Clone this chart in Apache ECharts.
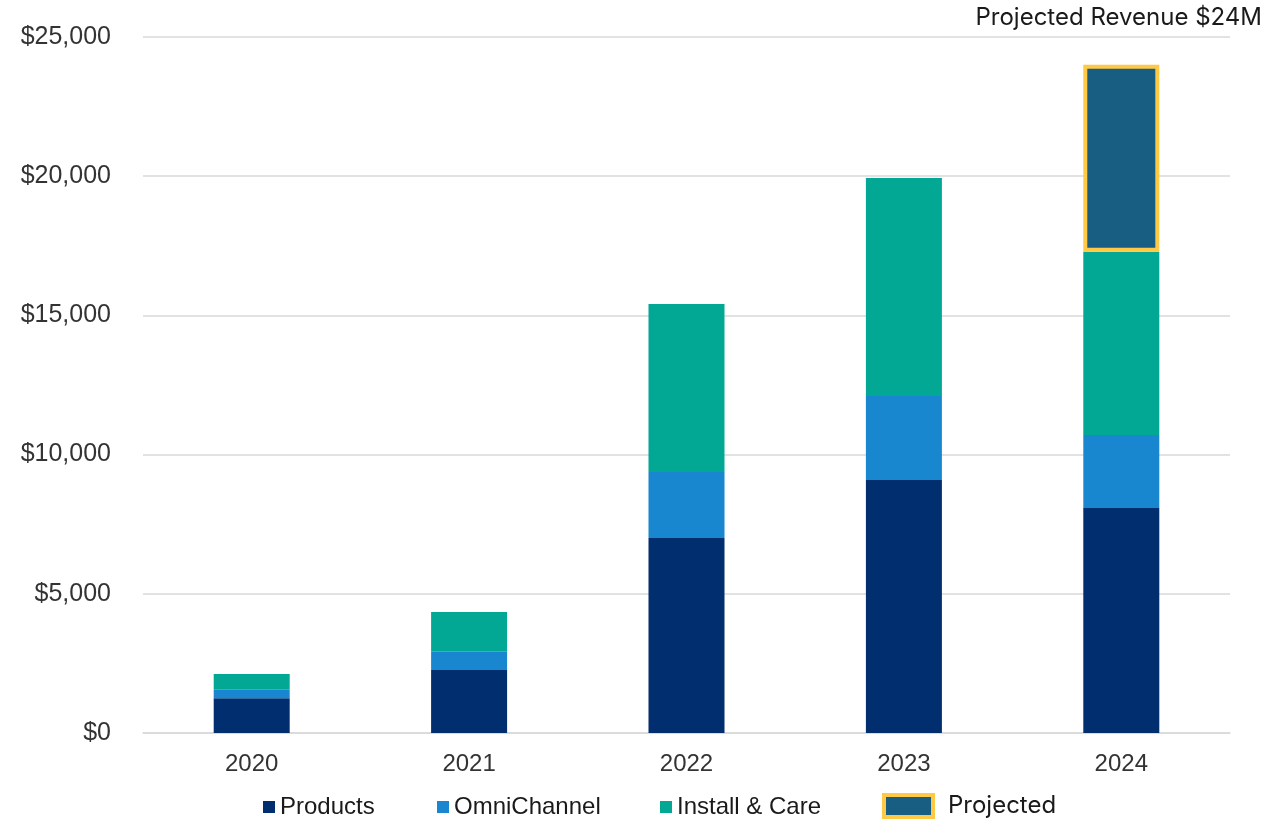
<!DOCTYPE html>
<html>
<head>
<meta charset="utf-8">
<script src="https://cdn.jsdelivr.net/npm/echarts@6/dist/echarts.min.js"></script>
<style>
html,body{margin:0;padding:0;background:#fff;}
#chart{width:1266px;height:822px;}
</style>
</head>
<body>
<div id="chart"></div>
<script>
const categories = ['2020', '2021', '2022', '2023', '2024'];
const products = [1250, 2260, 7000, 9090, 8080];
const omniChannel = [300, 660, 2375, 3015, 2620];
const installCare = [570, 1430, 6035, 7830, 6590];
const projected = [null, null, null, null, 6710];
const yTicks = [0, 5000, 10000, 15000, 20000, 25000];
const noteText = 'Projected Revenue $24M';

const chart = echarts.init(document.getElementById('chart'));
const fmt = v => '$' + v.toLocaleString('en-US');
const baseFont = 'Liberation Sans';
function leg(name, left, w, h, extra) {
  return Object.assign({
    data: [{ name: name, icon: 'rect' }],
    left: left, top: 795, padding: 0,
    itemWidth: w, itemHeight: h,
    textStyle: { fontFamily: baseFont, fontSize: 24, color: '#1a1a1a' },
    selectedMode: false
  }, extra || {});
}
chart.setOption({
  animation: false,
  backgroundColor: '#fff',
  title: {
    text: noteText, right: 4, top: 6, padding: 0,
    textStyle: { fontFamily: 'Inter', fontSize: 24, fontWeight: 'normal', color: '#1a1a1a' }
  },
  grid: { left: 143, right: 36, top: 37, bottom: 89, containLabel: false },
  legend: [
    leg('Products', 263, 12, 12),
    leg('OmniChannel', 437, 12, 12),
    leg('Install & Care', 660, 12, 12),
    leg('Projected', 882, 49, 22, {
      top: 793,
      itemStyle: { borderWidth: 4, borderColor: '#ffc845' },
      textStyle: { fontFamily: 'Inter', fontSize: 24, color: '#1a1a1a', padding: [0, 0, 0, 10] }
    })
  ],
  xAxis: {
    type: 'category', data: categories,
    axisLine: { lineStyle: { color: '#d9d9d9', width: 1.5 } },
    axisTick: { show: false },
    axisLabel: { fontFamily: baseFont, fontSize: 24, color: '#333', margin: 19 }
  },
  yAxis: {
    type: 'value', min: yTicks[0], max: yTicks[yTicks.length - 1], interval: yTicks[1] - yTicks[0],
    axisLine: { show: false }, axisTick: { show: false },
    splitLine: { lineStyle: { color: '#d9d9d9', width: 1.5 } },
    axisLabel: { fontFamily: baseFont, fontSize: 25, color: '#333', margin: 32, padding: [5, 0, 0, 0], formatter: fmt }
  },
  series: [
    { name: 'Products', type: 'bar', stack: 'a', data: products, barWidth: 76, itemStyle: { color: '#012e6f' } },
    { name: 'OmniChannel', type: 'bar', stack: 'a', data: omniChannel, itemStyle: { color: '#1987cf' } },
    { name: 'Install & Care', type: 'bar', stack: 'a', data: installCare, itemStyle: { color: '#02a893' } },
    { name: 'Projected', type: 'bar', stack: 'a', data: projected, itemStyle: { color: '#175e82', borderColor: '#ffc845', borderWidth: 4 } }
  ]
});
</script>
</body>
</html>
